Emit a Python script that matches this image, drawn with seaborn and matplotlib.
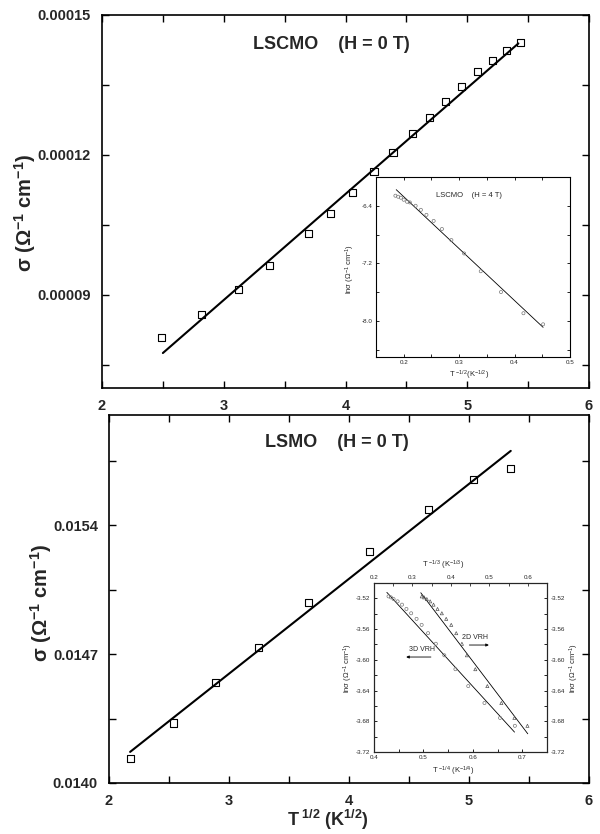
import numpy as np
import pandas as pd
import matplotlib
matplotlib.use("Agg")
import matplotlib.pyplot as plt
import seaborn as sns
from matplotlib.ticker import MultipleLocator, FormatStrFormatter, FixedLocator

# ---------------- data ----------------
# Top panel: LSCMO (H = 0 T)
lscmo_t12 = [2.486, 2.816, 3.120, 3.374, 3.694, 3.876, 4.061, 4.234, 4.390,
             4.547, 4.689, 4.824, 4.955, 5.084, 5.209, 5.319, 5.435]
lscmo_sigma = [8.09e-5, 8.57e-5, 9.12e-5, 9.62e-5, 1.031e-4, 1.075e-4, 1.120e-4,
               1.164e-4, 1.205e-4, 1.246e-4, 1.281e-4, 1.314e-4, 1.346e-4,
               1.379e-4, 1.403e-4, 1.424e-4, 1.441e-4]
lscmo_fit_t12 = [2.50, 5.42]
lscmo_fit_sigma = [7.75e-5, 1.439e-4]

# Top inset: LSCMO (H = 4 T)
lscmo4_tm12 = [0.185, 0.190, 0.195, 0.200, 0.206, 0.211, 0.2215, 0.231, 0.241,
               0.254, 0.269, 0.286, 0.309, 0.339, 0.3755, 0.416, 0.4515]
lscmo4_lnsig = [-6.260, -6.274, -6.288, -6.316, -6.344, -6.353, -6.400, -6.456,
                -6.526, -6.610, -6.722, -6.876, -7.062, -7.309, -7.598, -7.892, -8.046]
lscmo4_fit_tm12 = [0.1865, 0.4515]
lscmo4_fit_lnsig = [-6.176, -8.088]

# Bottom panel: LSMO (H = 0 T)
lsmo_t12 = [2.182, 2.534, 2.885, 3.246, 3.661, 4.173, 4.661, 5.038, 5.348]
lsmo_sigma = [0.014131, 0.014326, 0.014544, 0.014734, 0.014979, 0.015259,
              0.015487, 0.015650, 0.015710]
lsmo_fit_t12 = [2.176, 5.348]
lsmo_fit_sigma = [0.014169, 0.015805]

# Bottom inset: LSMO (H = 4 T)
lsmo4_lnsig = [-3.5174, -3.5187, -3.5209, -3.5239, -3.5282, -3.5338, -3.5394,
               -3.5467, -3.5545, -3.5653, -3.5791, -3.5941, -3.6122, -3.6342,
               -3.6562, -3.6756, -3.6859]
lsmo4_tm14 = [0.4294, 0.4342, 0.4396, 0.4478, 0.4567, 0.4656, 0.4752, 0.4861,
              0.4964, 0.5094, 0.5251, 0.5422, 0.5647, 0.5907, 0.6235, 0.6550, 0.6850]
lsmo4_tm13 = [0.3243, 0.3304, 0.3374, 0.3461, 0.3548, 0.3652, 0.3765, 0.3878,
              0.4009, 0.4139, 0.4287, 0.4417, 0.4635, 0.4948, 0.5313, 0.5652, 0.5991]
fit3d_tm14 = [0.426, 0.6843]
fit3d_lnsig = [-3.5122, -3.6941]
fit2d_tm13 = [0.3217, 0.600]
fit2d_lnsig = [-3.5127, -3.6963]

# ---------------- style ----------------
sns.set_style("white")
plt.rcParams["font.family"] = ["Liberation Sans", "DejaVu Sans"]
plt.rcParams["mathtext.fontset"] = "custom"
plt.rcParams["mathtext.rm"] = "Liberation Sans"
plt.rcParams["mathtext.it"] = "Liberation Sans:italic"
plt.rcParams["mathtext.bf"] = "Liberation Sans:bold"
plt.rcParams["mathtext.sf"] = "Liberation Sans"
plt.rcParams["axes.unicode_minus"] = False

W, H = 600, 834
fig = plt.figure(figsize=(W / 100, H / 100), dpi=100)


def box(l, t, r, b):
    return [l / W, 1 - b / H, (r - l) / W, (b - t) / H]


def style_axes(ax, lw=1.2, tlen=5, tw=1.0, size=10, pad=8, bold=True):
    for s in ax.spines.values():
        s.set_visible(True)
        s.set_color("black")
        s.set_linewidth(lw)
    ax.tick_params(which="both", direction="in", top=True, right=True,
                   bottom=True, left=True, width=tw, color="black",
                   labelsize=size, pad=pad)
    ax.tick_params(which="major", length=tlen)
    ax.tick_params(which="minor", length=tlen)
    for lab in ax.get_xticklabels() + ax.get_yticklabels():
        lab.set_fontweight("bold" if bold else "normal")


# ---------------- top panel ----------------
ax1 = fig.add_axes(box(102, 15, 589, 388))
sns.lineplot(x=lscmo_fit_t12, y=lscmo_fit_sigma, ax=ax1, color="black",
             linewidth=1.5, estimator=None, sort=False)
sns.scatterplot(x=lscmo_t12, y=lscmo_sigma, ax=ax1, marker="s", s=26,
                facecolors="none", edgecolors="black", linewidth=0.8, zorder=3)
ax1.set_xlim(2, 6)
ax1.set_ylim(7e-5, 1.5e-4)
ax1.xaxis.set_major_locator(MultipleLocator(1))
ax1.xaxis.set_minor_locator(MultipleLocator(0.5))
ax1.yaxis.set_major_locator(FixedLocator([9e-5, 1.2e-4, 1.5e-4]))
ax1.yaxis.set_minor_locator(FixedLocator([7.5e-5, 1.05e-4, 1.35e-4]))
ax1.yaxis.set_major_formatter(FormatStrFormatter("%.5f"))
ax1.xaxis.set_major_formatter(FormatStrFormatter("%d"))
style_axes(ax1, size=10.5)
ax1.set_ylabel("σ (Ω$^{\\mathbf{-1}}$ cm$^{\\mathbf{-1}}$)", fontsize=14.5,
               fontweight="bold")
ax1.yaxis.set_label_coords(-0.131, 0.47)
ax1.text(0.47, 0.92, "LSCMO    (H = 0 T)", transform=ax1.transAxes,
         ha="center", va="center", fontsize=13, fontweight="bold")

# top inset
ai1 = fig.add_axes(box(376, 177, 570, 357))
sns.lineplot(x=lscmo4_fit_tm12, y=lscmo4_fit_lnsig, ax=ai1, color="black",
             linewidth=0.6, estimator=None, sort=False)
sns.scatterplot(x=lscmo4_tm12, y=lscmo4_lnsig, ax=ai1, marker="o", s=5,
                facecolors="none", edgecolors="#777777", linewidth=0.5, zorder=3)
ai1.set_xlim(0.15, 0.5)
ai1.set_ylim(-8.5, -6.0)
ai1.xaxis.set_major_locator(FixedLocator([0.2, 0.3, 0.4, 0.5]))
ai1.xaxis.set_minor_locator(FixedLocator([0.25, 0.35, 0.45]))
ai1.yaxis.set_major_locator(FixedLocator([-8.0, -7.2, -6.4]))
ai1.yaxis.set_minor_locator(FixedLocator([-8.4, -7.6, -6.8]))
ai1.xaxis.set_major_formatter(FormatStrFormatter("%.1f"))
ai1.yaxis.set_major_formatter(FormatStrFormatter("%.1f"))
style_axes(ai1, lw=0.8, tlen=2, tw=0.6, size=4.5, pad=2.5, bold=False)
ai1.set_xlabel("T $^{-1/2}$(K$^{-1/2}$)", fontsize=5.5)
ai1.xaxis.set_label_coords(0.48, -0.065)
ai1.set_ylabel("lnσ (Ω$^{-1}$ cm$^{-1}$)", fontsize=5.5)
ai1.yaxis.set_label_coords(-0.10, 0.49)
ai1.text(0.48, 0.895, "LSCMO    (H = 4 T)", transform=ai1.transAxes,
         ha="center", va="center", fontsize=5.5)

# ---------------- bottom panel ----------------
ax2 = fig.add_axes(box(109, 415, 589, 783))
sns.lineplot(x=lsmo_fit_t12, y=lsmo_fit_sigma, ax=ax2, color="black",
             linewidth=1.5, estimator=None, sort=False)
sns.scatterplot(x=lsmo_t12, y=lsmo_sigma, ax=ax2, marker="s", s=26,
                facecolors="none", edgecolors="black", linewidth=0.8, zorder=3)
ax2.set_xlim(2, 6)
ax2.set_ylim(0.0140, 0.0160)
ax2.xaxis.set_major_locator(MultipleLocator(1))
ax2.xaxis.set_minor_locator(MultipleLocator(0.5))
ax2.yaxis.set_major_locator(FixedLocator([0.0140, 0.0147, 0.0154]))
ax2.yaxis.set_minor_locator(FixedLocator([0.01435, 0.01505, 0.01575]))
ax2.yaxis.set_major_formatter(FormatStrFormatter("%.4f"))
ax2.xaxis.set_major_formatter(FormatStrFormatter("%d"))
style_axes(ax2, size=10.5)
ax2.set_ylabel("σ (Ω$^{\\mathbf{-1}}$ cm$^{\\mathbf{-1}}$)", fontsize=14.5,
               fontweight="bold")
ax2.yaxis.set_label_coords(-0.115, 0.49)
ax2.set_xlabel(r"$\mathbf{T^{\ 1/2}\ (K^{1/2})}$", fontsize=13)
ax2.xaxis.set_label_coords(0.456, -0.068)
ax2.text(0.475, 0.924, "LSMO    (H = 0 T)", transform=ax2.transAxes,
         ha="center", va="center", fontsize=13, fontweight="bold")

# bottom inset
ai2 = fig.add_axes(box(374, 583, 547, 752))
sns.lineplot(x=fit3d_tm14, y=fit3d_lnsig, ax=ai2, color="black",
             linewidth=0.6, estimator=None, sort=False)
sns.scatterplot(x=lsmo4_tm14, y=lsmo4_lnsig, ax=ai2, marker="o", s=5,
                facecolors="none", edgecolors="#777777", linewidth=0.5, zorder=3)
ai2.set_xlim(0.4, 0.75)
ai2.set_ylim(-3.72, -3.50)
ai2.xaxis.set_major_locator(FixedLocator([0.4, 0.5, 0.6, 0.7]))
ai2.xaxis.set_minor_locator(FixedLocator([0.45, 0.55, 0.65]))
ai2.yaxis.set_major_locator(FixedLocator([-3.72, -3.68, -3.64, -3.60, -3.56, -3.52]))
ai2.yaxis.set_minor_locator(FixedLocator([-3.70, -3.66, -3.62, -3.58, -3.54]))
ai2.xaxis.set_major_formatter(FormatStrFormatter("%.1f"))
ai2.yaxis.set_major_formatter(FormatStrFormatter("%.2f"))
style_axes(ai2, lw=0.8, tlen=2, tw=0.6, size=4.5, pad=2.5, bold=False)
ai2.tick_params(which="both", top=False, right=True, labelright=True)
for lab in ai2.get_yticklabels():
    lab.set_fontweight("normal")
ai2.set_xlabel("T $^{-1/4}$ (K$^{-1/4}$)", fontsize=5.5)
ai2.xaxis.set_label_coords(0.457, -0.075)
ai2.set_ylabel("lnσ (Ω$^{-1}$ cm$^{-1}$)", fontsize=5.5)
ai2.yaxis.set_label_coords(-0.11, 0.50)
ai2.text(1.12, 0.50, "lnσ (Ω$^{-1}$ cm$^{-1}$)", transform=ai2.transAxes,
         rotation=90, ha="left", va="center", fontsize=5.5)

at2 = ai2.twiny()
sns.lineplot(x=fit2d_tm13, y=fit2d_lnsig, ax=at2, color="black",
             linewidth=0.6, estimator=None, sort=False)
sns.scatterplot(x=lsmo4_tm13, y=lsmo4_lnsig, ax=at2, marker="^", s=5,
                facecolors="none", edgecolors="#555555", linewidth=0.5, zorder=3)
at2.set_xlim(0.2, 0.65)
at2.set_ylim(-3.72, -3.50)
at2.xaxis.set_major_locator(FixedLocator([0.2, 0.3, 0.4, 0.5, 0.6]))
at2.xaxis.set_minor_locator(FixedLocator([0.25, 0.35, 0.45, 0.55]))
at2.xaxis.set_major_formatter(FormatStrFormatter("%.1f"))
at2.tick_params(which="both", direction="in", top=True, labeltop=True,
                bottom=False, labelbottom=False, width=0.6, length=2,
                labelsize=4.5, pad=2.5)
for s in at2.spines.values():
    s.set_linewidth(0.8)
at2.set_xlabel("T $^{-1/3}$ (K$^{-1/3}$)", fontsize=5.5)
at2.xaxis.set_label_coords(0.40, 1.09)

ai2.text(0.584, 0.68, "2D VRH", transform=ai2.transAxes, ha="center",
         va="center", fontsize=5)
ai2.annotate("", xy=(0.68, 0.633), xytext=(0.535, 0.633),
             xycoords="axes fraction",
             arrowprops=dict(arrowstyle="-|>", lw=0.6, color="black",
                             mutation_scale=4))
ai2.text(0.277, 0.604, "3D VRH", transform=ai2.transAxes, ha="center",
         va="center", fontsize=5)
ai2.annotate("", xy=(0.17, 0.562), xytext=(0.345, 0.562),
             xycoords="axes fraction",
             arrowprops=dict(arrowstyle="-|>", lw=0.6, color="black",
                             mutation_scale=4))

fig.savefig("out.png", dpi=100)
